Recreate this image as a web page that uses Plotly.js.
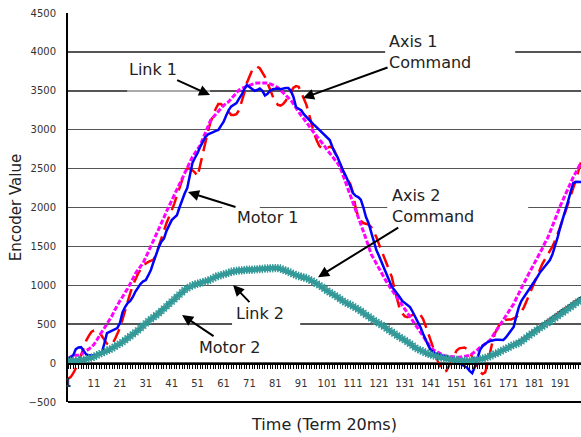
<!DOCTYPE html>
<html>
<head>
<meta charset="utf-8">
<script src="https://cdn.plot.ly/plotly-3.0.1.min.js"></script>
<style>html,body{margin:0;padding:0;background:#fff;}#chart{width:581px;height:437px;}</style>
</head>
<body>
<div id="chart"></div>
<script>
// Time index (Term 20ms)
const timeIdx = [1,2,3,4,5,6,7,8,9,10,11,12,13,14,15,16,17,18,19,20,21,22,23,24,25,26,27,28,29,30,31,32,33,34,35,36,37,38,39,40,41,42,43,44,45,46,47,48,49,50,51,52,53,54,55,56,57,58,59,60,61,62,63,64,65,66,67,68,69,70,71,72,73,74,75,76,77,78,79,80,81,82,83,84,85,86,87,88,89,90,91,92,93,94,95,96,97,98,99,100,101,102,103,104,105,106,107,108,109,110,111,112,113,114,115,116,117,118,119,120,121,122,123,124,125,126,127,128,129,130,131,132,133,134,135,136,137,138,139,140,141,142,143,144,145,146,147,148,149,150,151,152,153,154,155,156,157,158,159,160,161,162,163,164,165,166,167,168,169,170,171,172,173,174,175,176,177,178,179,180,181,182,183,184,185,186,187,188,189,190,191,192,193,194,195,196,197,198,199];

const tickLabels = ['1','11','21','31','41','51','61','71','81','91','101','111','121','131','141','151','161','171','181','191'];
const tickPositions = [1,11,21,31,41,51,61,71,81,91,101,111,121,131,141,151,161,171,181,191];

const axis1Command = [
-200,-180,-130,-70,0,100,200,290,350,400,
420,424,400,350,300,250,230,250,300,370,
450,560,680,800,900,1000,1080,1150,1200,1240,
1280,1300,1310,1330,1400,1500,1620,1720,1800,1880,
1960,2050,2150,2260,2370,2450,2500,2500,2480,2450,
2400,2550,2700,2850,2980,3100,3200,3270,3330,3330,
3300,3260,3220,3190,3190,3200,3250,3350,3470,3600,
3690,3760,3800,3810,3790,3740,3680,3600,3510,3430,
3360,3320,3310,3330,3370,3430,3490,3540,3560,3550,
3480,3400,3320,3200,3060,2950,2860,2790,2760,2760,
2770,2780,2770,2720,2640,2560,2480,2410,2350,2300,
2180,2000,1880,1830,1800,1790,1780,1750,1690,1620,
1530,1440,1350,1270,1190,1105,950,820,700,640,
600,590,600,620,640,640,620,570,480,380,
280,180,80,0,-70,-110,-100,-40,40,110,
160,190,200,200,180,140,80,20,-50,-110,
-140,-120,0,150,300,400,470,520,550,560,
560,560,570,590,620,660,720,800,880,960,
1050,1130,1200,1270,1330,1390,1440,1500,1580,1660,
1750,1850,1950,2040,2130,2230,2350,2470,2580];

const link1 = [
60,80,100,100,100,110,130,150,180,205,
240,290,350,400,450,500,550,610,680,750,
800,850,900,960,1020,1090,1150,1200,1250,1290,
1360,1430,1500,1570,1640,1710,1790,1870,1950,2020,
2095,2170,2240,2320,2390,2460,2530,2600,2650,2700,
2750,2800,2880,2960,3040,3120,3160,3200,3240,3280,
3310,3340,3360,3400,3440,3480,3510,3530,3545,3560,
3575,3585,3595,3600,3600,3600,3600,3600,3590,3580,
3560,3540,3510,3480,3450,3420,3380,3330,3280,3220,
3180,3140,3100,3050,3000,2960,2920,2870,2830,2790,
2740,2700,2650,2610,2570,2520,2430,2340,2250,2150,
2060,1970,1880,1800,1700,1600,1500,1400,1340,1280,
1210,1150,1100,1040,990,940,890,840,790,750,
700,650,600,550,500,450,400,350,300,250,
200,170,150,130,110,100,90,85,80,75,
75,75,80,85,90,100,120,140,170,200,
220,250,270,300,350,400,450,500,550,600,
650,700,760,830,900,960,1030,1100,1160,1220,
1280,1340,1400,1470,1540,1600,1680,1770,1860,1950,
2020,2095,2170,2250,2320,2390,2450,2520,2580];

const motor1 = [
50,70,100,180,200,205,150,110,100,100,
100,105,110,130,250,385,400,420,440,450,
514,650,720,771,800,850,920,977,1020,1050,
1067,1130,1200,1300,1400,1491,1560,1600,1700,1780,
1838,1870,1900,2000,2100,2180,2250,2400,2571,2640,
2700,2780,2850,2906,2940,2960,2970,2985,2996,3050,
3100,3180,3253,3300,3320,3343,3400,3450,3520,3574,
3550,3520,3500,3510,3530,3500,3440,3460,3500,3520,
3530,3530,3520,3530,3536,3536,3500,3420,3291,3270,
3250,3200,3163,3120,3090,3060,3030,2996,2970,2940,
2900,2867,2780,2700,2648,2560,2481,2420,2350,2270,
2186,2150,2134,2100,2000,1877,1800,1680,1550,1453,
1380,1300,1220,1150,1060,977,940,900,850,800,
770,740,720,660,600,530,463,380,300,230,
167,140,120,110,100,95,90,80,60,40,
20,0,-20,-30,-60,-100,-130,-50,60,167,
220,250,270,285,296,300,300,296,296,330,
380,420,463,600,720,800,850,900,938,1000,
1050,1100,1157,1200,1250,1290,1324,1400,1500,1620,
1748,1850,1950,2080,2200,2314,2330,2330,2327];

const axis2Command = [
20,22,25,28,32,38,45,55,65,78,
90,105,120,135,150,165,180,198,215,235,
255,278,300,325,350,375,400,428,455,485,
515,545,572,598,622,650,680,710,740,770,
800,830,860,890,915,940,962,982,1000,1015,
1025,1035,1045,1055,1068,1082,1098,1115,1125,1135,
1145,1155,1165,1175,1182,1188,1192,1195,1198,1200,
1202,1204,1206,1208,1210,1212,1214,1216,1218,1218,
1216,1212,1205,1195,1185,1172,1158,1142,1128,1115,
1105,1095,1085,1070,1052,1032,1012,992,970,948,
925,902,880,858,836,814,792,772,755,738,
720,700,680,660,636,612,590,565,542,520,
500,478,456,434,412,390,368,345,324,304,
284,262,240,218,196,176,160,145,130,118,
106,96,86,76,68,60,54,48,44,40,
38,35,32,30,30,31,34,40,48,56,
65,75,86,98,112,126,142,158,175,192,
210,228,246,262,280,302,326,350,375,400,
425,450,474,498,522,546,570,594,618,642,
666,690,712,735,758,780,802,825,850];

const link2 = [
30,30,30,32,35,40,45,50,60,70,
80,100,115,128,145,160,175,190,210,230,
250,270,296,320,345,370,395,420,450,480,
510,540,565,590,615,640,670,700,730,760,
790,820,850,880,910,940,960,980,1000,1010,
1020,1030,1040,1050,1060,1075,1090,1110,1120,1130,
1140,1150,1160,1174,1180,1185,1190,1190,1195,1200,
1200,1200,1205,1205,1210,1210,1215,1215,1220,1220,
1221,1221,1215,1200,1190,1175,1160,1145,1130,1120,
1110,1100,1093,1075,1060,1040,1020,1000,980,955,
930,910,890,870,848,825,800,780,765,750,
730,710,690,670,645,620,600,575,550,530,
510,490,470,445,420,400,380,355,334,315,
295,270,250,225,200,180,165,150,135,120,
110,100,90,80,70,65,58,50,46,42,
40,36,33,30,28,28,30,35,42,50,
58,66,77,90,105,120,135,150,170,185,
200,220,235,245,257,280,305,330,355,380,
400,425,450,470,490,514,535,560,580,605,
630,650,675,700,720,745,770,790,810];

const traces = [
  {x: timeIdx, y: axis1Command, name: 'Axis 1 Command', mode: 'lines',
   line: {color: '#ff0000', width: 2.5, dash: '14px,7px'}},
  {x: timeIdx, y: link1, name: 'Link 1', mode: 'lines',
   line: {color: '#ff00ff', width: 3, dash: '5px,2px'}},
  {x: timeIdx, y: motor1, name: 'Motor 1', mode: 'lines',
   line: {color: '#0000ff', width: 2.5}},
  {x: timeIdx, y: axis2Command, name: 'Axis 2 Command', mode: 'lines',
   line: {color: '#800000', width: 2}},
  {x: timeIdx, y: link2, name: 'Link 2', mode: 'lines+markers',
   line: {color: '#339999', width: 1},
   marker: {symbol: 'asterisk-open', size: 7, color: '#339999', line: {color: '#339999', width: 1.2}}}
];

const annFont = {family: 'DejaVu Sans', size: 16, color: '#222'};
function ann(text, x, y, ax, ay, align) {
  return {text: text, x: x, y: y, xref: 'x', yref: 'y', ax: ax, ay: ay,
    showarrow: true, arrowhead: 2, arrowsize: 1.1, arrowwidth: 2, arrowcolor: '#000',
    font: annFont, align: align || 'center'};
}

const layout = {
  width: 581, height: 437,
  margin: {l: 68, r: 0, t: 13, b: 35},
  paper_bgcolor: '#fff', plot_bgcolor: '#fff',
  showlegend: false,
  font: {family: 'DejaVu Sans', color: '#222'},
  xaxis: {
    range: [0.97, 199], anchor: 'free', position: 0.1,
    tickmode: 'array', tickvals: tickPositions, ticktext: tickLabels,
    showgrid: false, zeroline: false,
    showline: true, linecolor: '#000', linewidth: 1.5,
    ticks: 'outside', ticklen: 4, tickcolor: '#000', tickwidth: 1,
    minor: {tick0: 1, dtick: 1, ticks: 'outside', ticklen: 4, tickcolor: '#000', tickwidth: 1, showgrid: false},
    tickfont: {family: 'DejaVu Sans', size: 10, color: '#333'},
    ticklabelstandoff: 6,
    title: {text: 'Time (Term 20ms)', font: {family: 'DejaVu Sans', size: 16, color: '#222'}, standoff: 31}
  },
  yaxis: {
    range: [-500, 4500], tickmode: 'linear', tick0: 0, dtick: 500,
    showgrid: true, gridcolor: '#555', gridwidth: 1.5,
    zeroline: false, showline: true, linecolor: '#000', linewidth: 2,
    ticks: '',
    tickfont: {family: 'DejaVu Sans', size: 10, color: '#333'},
    ticklabelstandoff: 8,
    title: {text: 'Encoder Value', font: {family: 'DejaVu Sans', size: 15, color: '#222'}, standoff: 3}
  },
  shapes: [
    {type: 'line', xref: 'paper', yref: 'paper', x0: 0, x1: 1, y0: 0, y1: 0, line: {color: '#000', width: 2}},
    {type: 'rect', xref: 'x', yref: 'y', x0: 123.4, x1: 173.6, y0: 3740, y1: 4240, fillcolor: '#fff', line: {width: 0}, layer: 'between'},
    {type: 'rect', xref: 'x', yref: 'y', x0: 124.2, x1: 178.6, y0: 1735, y1: 2250, fillcolor: '#fff', line: {width: 0}, layer: 'between'},
    {type: 'rect', xref: 'x', yref: 'y', x0: 60.5, x1: 75, y0: 1940, y1: 2070, fillcolor: '#fff', line: {width: 0}, layer: 'between'},
    {type: 'rect', xref: 'x', yref: 'y', x0: 64.3, x1: 90.6, y0: 424, y1: 578, fillcolor: '#fff', line: {width: 0}, layer: 'between'},
    {type: 'rect', xref: 'x', yref: 'y', x0: 23.8, x1: 55.8, y0: 3420, y1: 3650, fillcolor: '#fff', opacity: 0.5, line: {width: 0}, layer: 'between'}
  ],
  annotations: [
    ann('Link 1', 55.8, 3445, -57, -26),
    ann('Axis 1<br>Command', 91.7, 3406, 127, -46, 'left'),
    ann('Motor 1', 47.3, 2198, 80, 25),
    ann('Axis 2<br>Command', 97.5, 1105, 115, -71, 'left'),
    ann('Link 2', 64.7, 1003, 27, 28),
    ann('Motor 2', 45, 617, 48, 32),
    {text: tickLabels[0], x: tickPositions[0], y: 0, xref: 'x', yref: 'y', showarrow: false,
     yshift: -19, font: {family: 'DejaVu Sans', size: 10, color: '#333'}}
  ]
};

Plotly.newPlot('chart', traces, layout, {displayModeBar: false, staticPlot: true});
</script>
</body>
</html>
